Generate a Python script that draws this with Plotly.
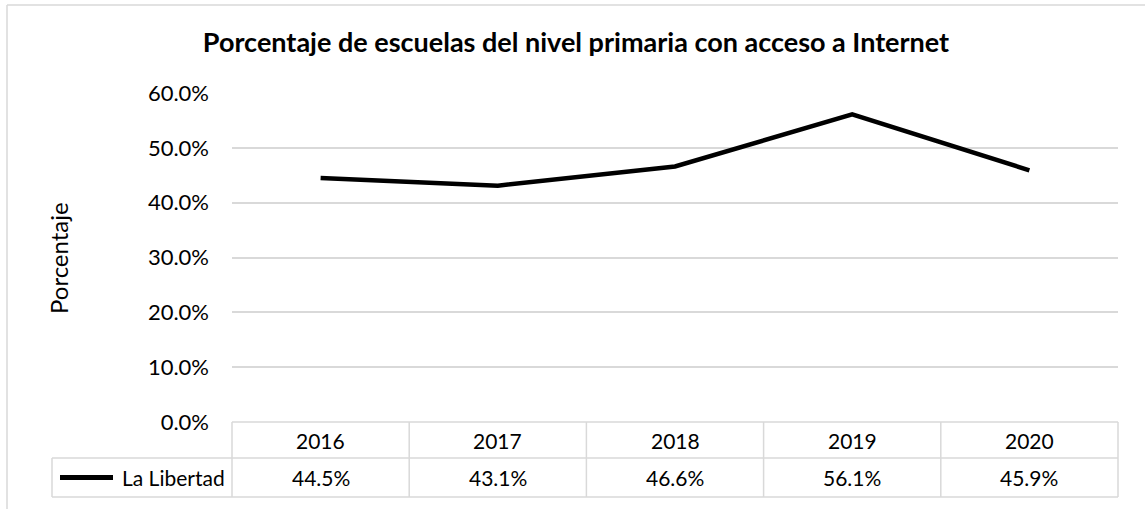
import plotly.graph_objects as go

years = ["2016", "2017", "2018", "2019", "2020"]
values = [44.5, 43.1, 46.6, 56.1, 45.9]
series_name = "La Libertad"
title = "Porcentaje de escuelas del nivel primaria con acceso a Internet"
y_title = "Porcentaje"
y_ticks = [0, 10, 20, 30, 40, 50, 60]

W, H = 1145, 509
L, R, T, B = 232, 27, 93, 87
pw, ph = W - L - R, H - T - B
FONT = "Lato, Carlito, Calibri, sans-serif"
GRID = "#d9d9d9"


def px(xp):
    return (xp - L) / pw


def py(yp):
    return (H - B - yp) / ph


xs = [i + 0.5 for i in range(len(years))]

fig = go.Figure()
fig.add_trace(go.Scatter(x=xs, y=values, mode="lines", name=series_name,
                         line=dict(color="black", width=4.5), showlegend=False,
                         hoverinfo="skip"))

shapes = []
# chart border (cropped at right/bottom)
shapes.append(dict(type="line", xref="paper", yref="paper", x0=px(7), x1=px(1150),
                   y0=py(5), y1=py(5), line=dict(color=GRID, width=1.5)))
shapes.append(dict(type="line", xref="paper", yref="paper", x0=px(7), x1=px(7),
                   y0=py(5), y1=py(515), line=dict(color=GRID, width=1.5)))
# table grid
row1, row2 = 458, 497
shapes.append(dict(type="line", xref="paper", yref="paper", x0=0, x1=1,
                   y0=0, y1=0, line=dict(color=GRID, width=1.5)))
shapes.append(dict(type="line", xref="paper", yref="paper", x0=px(52), x1=1,
                   y0=py(row1), y1=py(row1), line=dict(color=GRID, width=1.5)))
shapes.append(dict(type="line", xref="paper", yref="paper", x0=px(52), x1=1,
                   y0=py(row2), y1=py(row2), line=dict(color=GRID, width=1.5)))
shapes.append(dict(type="line", xref="paper", yref="paper", x0=px(52), x1=px(52),
                   y0=py(row1), y1=py(row2), line=dict(color=GRID, width=1.5)))
for i in range(len(years) + 1):
    xv = i / len(years)
    shapes.append(dict(type="line", xref="paper", yref="paper", x0=xv, x1=xv,
                       y0=0, y1=py(row2), line=dict(color=GRID, width=1.5)))
# legend key line
shapes.append(dict(type="line", xref="paper", yref="paper", x0=px(60), x1=px(113),
                   y0=py(477.5), y1=py(477.5), line=dict(color="black", width=5)))

annotations = []
for i, (yr, v) in enumerate(zip(years, values)):
    annotations.append(dict(x=xs[i], y=py(440), xref="x", yref="paper", text=yr,
                            showarrow=False, xanchor="center", yanchor="middle",
                            font=dict(size=21, color="#000")))
    annotations.append(dict(x=xs[i], y=py(477.5), xref="x", yref="paper",
                            text=f"{v:.1f}%", showarrow=False,
                            xanchor="center", yanchor="middle",
                            font=dict(size=21, color="#000")))
annotations.append(dict(x=px(227), y=py(477.5), xref="paper", yref="paper",
                        text=series_name, showarrow=False, xanchor="right",
                        yanchor="middle", font=dict(size=21, color="#000")))
annotations.append(dict(x=px(58), y=py(258), xref="paper", yref="paper",
                        text=y_title, showarrow=False, textangle=-90,
                        xanchor="center", yanchor="middle",
                        font=dict(size=24, color="#000")))

fig.update_layout(
    width=W, height=H,
    margin=dict(l=L, r=R, t=T, b=B, pad=0),
    paper_bgcolor="white", plot_bgcolor="white",
    font=dict(family=FONT, color="#000"),
    title=dict(text=f"<b>{title}</b>", x=576 / W, xanchor="center",
               y=1 - 43 / H, yanchor="middle", font=dict(size=27, family=FONT)),
    xaxis=dict(range=[0, len(years)], showticklabels=False, showgrid=False,
               zeroline=False, showline=False, ticks=""),
    yaxis=dict(range=[0, 60], tickvals=y_ticks,
               ticktext=[f"{t:.1f}%" for t in y_ticks],
               showgrid=True, gridcolor=GRID, gridwidth=1.5, zeroline=False,
               showline=False, ticks="", tickfont=dict(size=22),
               ticklabelstandoff=22),
    shapes=shapes, annotations=annotations,
)

fig.write_html("out.html", config={"displayModeBar": False},
               post_script="document.body.style.margin='0';"
                           "document.body.style.overflow='hidden';")
